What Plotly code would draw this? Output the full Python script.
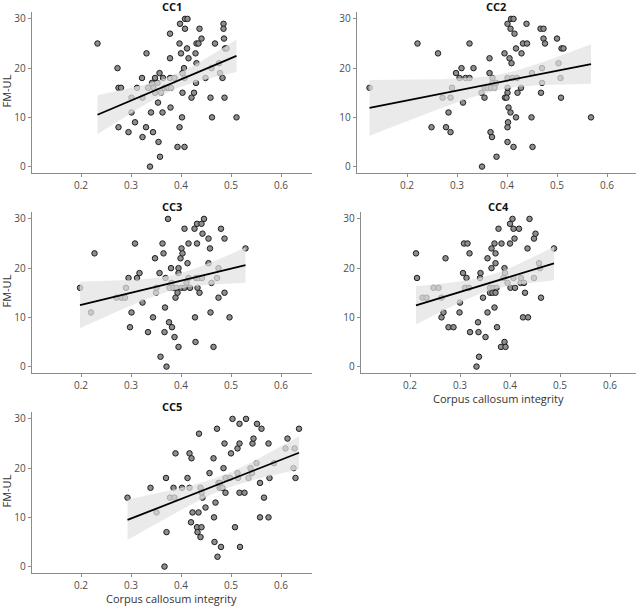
import numpy as np
import plotly.graph_objects as go

W, H = 642, 606

panel_titles = ["CC1", "CC2", "CC3", "CC4", "CC5"]
x_ticks = [0.2, 0.3, 0.4, 0.5, 0.6]
y_ticks = [0, 10, 20, 30]
x_label = "Corpus callosum integrity"
y_label = "FM-UL"

cc1_points = [
    (0.233, 25), (0.331, 23), (0.273, 20), (0.275, 16), (0.280, 16), (0.322, 18), (0.312, 16),
    (0.301, 14), (0.323, 14), (0.301, 11), (0.275, 8), (0.308, 9), (0.295, 7), (0.323, 6),
    (0.330, 8), (0.340, 11), (0.344, 7), (0.355, 5), (0.338, 0), (0.358, 2), (0.363, 11),
    (0.379, 12), (0.354, 13), (0.334, 16), (0.342, 17), (0.348, 18), (0.345, 16), (0.348, 15),
    (0.353, 17), (0.357, 19), (0.360, 15), (0.364, 18), (0.367, 16), (0.372, 16), (0.375, 16),
    (0.380, 16), (0.378, 18), (0.387, 18), (0.378, 22), (0.378, 27), (0.398, 29), (0.408, 30),
    (0.413, 30), (0.408, 28), (0.397, 25), (0.400, 23), (0.412, 24), (0.415, 22), (0.406, 20),
    (0.403, 19), (0.407, 18), (0.403, 15), (0.402, 10), (0.397, 8), (0.393, 4), (0.407, 4),
    (0.421, 14), (0.426, 15), (0.429, 23), (0.431, 21), (0.430, 17), (0.431, 25), (0.435, 25),
    (0.437, 28), (0.441, 26), (0.449, 18), (0.468, 25), (0.459, 14), (0.462, 10), (0.461, 20),
    (0.476, 21), (0.478, 19), (0.483, 18), (0.485, 29), (0.485, 28), (0.486, 26), (0.488, 24),
    (0.491, 24), (0.487, 14), (0.511, 10),
]

cc2_points = [
    (0.125, 16), (0.221, 25), (0.262, 23), (0.249, 8), (0.278, 8), (0.287, 7), (0.283, 11),
    (0.271, 14), (0.287, 14), (0.290, 16), (0.312, 13), (0.298, 19), (0.305, 18), (0.309, 20),
    (0.317, 18), (0.325, 18), (0.333, 20), (0.325, 25), (0.350, 0), (0.379, 2), (0.401, 5),
    (0.413, 4), (0.451, 4), (0.367, 7), (0.370, 6), (0.401, 8), (0.402, 9), (0.403, 12),
    (0.407, 11), (0.418, 10), (0.449, 10), (0.349, 15), (0.355, 16), (0.361, 16), (0.368, 16),
    (0.375, 16), (0.371, 17), (0.378, 17), (0.371, 18), (0.355, 14), (0.365, 19), (0.365, 22),
    (0.395, 23), (0.405, 22), (0.409, 21), (0.418, 24), (0.429, 23), (0.401, 29), (0.408, 30),
    (0.413, 30), (0.407, 28), (0.415, 27), (0.432, 25), (0.440, 25), (0.439, 29), (0.467, 28),
    (0.473, 28), (0.473, 26), (0.476, 25), (0.500, 26), (0.509, 24), (0.513, 24), (0.503, 21),
    (0.507, 18), (0.508, 14), (0.468, 15), (0.470, 17), (0.470, 20), (0.450, 19), (0.428, 16),
    (0.421, 15), (0.401, 15), (0.401, 16), (0.401, 18), (0.411, 18), (0.420, 18), (0.396, 14),
    (0.399, 14), (0.568, 10),
]

cc3_points = [
    (0.198, 16), (0.220, 11), (0.227, 23), (0.271, 14), (0.281, 14), (0.288, 14), (0.290, 16),
    (0.295, 18), (0.301, 11), (0.298, 8), (0.308, 25), (0.312, 18), (0.317, 19), (0.323, 13),
    (0.334, 7), (0.344, 10), (0.348, 22), (0.350, 15), (0.351, 16), (0.357, 19), (0.363, 25),
    (0.365, 23), (0.367, 7), (0.368, 12), (0.369, 18), (0.359, 2), (0.371, 0), (0.374, 30),
    (0.376, 9), (0.382, 8), (0.377, 16), (0.380, 20), (0.381, 17), (0.385, 16), (0.391, 16),
    (0.387, 6), (0.389, 14), (0.393, 15), (0.395, 4), (0.395, 20), (0.395, 19), (0.399, 22),
    (0.401, 24), (0.403, 23), (0.401, 16), (0.407, 16), (0.407, 28), (0.411, 17), (0.413, 21),
    (0.415, 25), (0.415, 18), (0.418, 16), (0.427, 28), (0.428, 10), (0.429, 5), (0.430, 18),
    (0.432, 29), (0.432, 25), (0.433, 16), (0.437, 15), (0.435, 18), (0.441, 29), (0.443, 27),
    (0.442, 18), (0.446, 30), (0.455, 26), (0.455, 21), (0.458, 24), (0.459, 11), (0.461, 17),
    (0.465, 4), (0.472, 18), (0.475, 20), (0.475, 14), (0.480, 28), (0.487, 15), (0.487, 26),
    (0.497, 10), (0.529, 24),
]

cc4_points = [
    (0.212, 23), (0.214, 18), (0.225, 14), (0.233, 14), (0.247, 16), (0.257, 16), (0.263, 14),
    (0.263, 10), (0.267, 11), (0.271, 22), (0.277, 8), (0.287, 8), (0.299, 11), (0.300, 13),
    (0.306, 19), (0.308, 25), (0.315, 25), (0.313, 18), (0.310, 16), (0.318, 16), (0.319, 23),
    (0.320, 7), (0.336, 9), (0.337, 7), (0.338, 2), (0.333, 0), (0.341, 19), (0.340, 18),
    (0.346, 14), (0.351, 6), (0.355, 22), (0.355, 11), (0.360, 16), (0.367, 16), (0.373, 16),
    (0.360, 15), (0.365, 15), (0.371, 15), (0.363, 24), (0.363, 20), (0.369, 12), (0.369, 25),
    (0.371, 23), (0.371, 21), (0.374, 8), (0.377, 28), (0.383, 25), (0.382, 4), (0.389, 5),
    (0.391, 4), (0.389, 20), (0.390, 19), (0.387, 18), (0.395, 17), (0.400, 25), (0.400, 29),
    (0.405, 30), (0.407, 28), (0.409, 26), (0.401, 16), (0.407, 18), (0.410, 16), (0.418, 28),
    (0.421, 17), (0.428, 17), (0.422, 18), (0.426, 10), (0.430, 15), (0.436, 10), (0.435, 24),
    (0.439, 30), (0.448, 26), (0.451, 27), (0.448, 18), (0.458, 21), (0.460, 20), (0.462, 14),
    (0.488, 24),
]

cc5_points = [
    (0.293, 14), (0.339, 16), (0.351, 11), (0.371, 7), (0.370, 18), (0.367, 0), (0.378, 14),
    (0.387, 14), (0.385, 16), (0.389, 23), (0.402, 16), (0.413, 18), (0.417, 16), (0.417, 23),
    (0.421, 22), (0.423, 11), (0.420, 9), (0.432, 8), (0.433, 7), (0.435, 11), (0.436, 27),
    (0.439, 16), (0.441, 15), (0.441, 8), (0.439, 6), (0.443, 14), (0.449, 12), (0.457, 19),
    (0.465, 22), (0.466, 10), (0.467, 5), (0.469, 13), (0.472, 28), (0.473, 2), (0.477, 16),
    (0.481, 16), (0.475, 17), (0.478, 17), (0.480, 4), (0.483, 16), (0.485, 20), (0.487, 25),
    (0.489, 18), (0.489, 15), (0.498, 18), (0.500, 23), (0.503, 30), (0.508, 8), (0.513, 24),
    (0.513, 19), (0.514, 18), (0.517, 25), (0.517, 29), (0.517, 15), (0.518, 4), (0.527, 15),
    (0.530, 30), (0.535, 18), (0.539, 20), (0.542, 19), (0.543, 25), (0.545, 26), (0.551, 21),
    (0.552, 29), (0.558, 17), (0.558, 10), (0.561, 28), (0.566, 14), (0.575, 25), (0.575, 10),
    (0.577, 18), (0.586, 21), (0.609, 24), (0.613, 26), (0.627, 24), (0.625, 20), (0.629, 18),
    (0.636, 28),
]

all_points = [cc1_points, cc2_points, cc3_points, cc4_points, cc5_points]

# panel boxes in pixels: (left, right, top, bottom)
boxes = [
    (32, 312, 12, 173),
    (357, 636, 12, 173),
    (32, 312, 212, 373),
    (361, 636, 212, 373),
    (32, 312, 412, 573),
]
x_ranges = [(0.102, 0.662), (0.100, 0.658), (0.102, 0.662), (0.102, 0.652), (0.102, 0.662)]
y_range = (-1.3, 31.4)

T975 = 1.99

fig = go.Figure()
axis_color = "#8c8c8c"
font_family = "Open Sans"

for i, pts in enumerate(all_points):
    k = "" if i == 0 else str(i + 1)
    xa, ya = "x" + k, "y" + k
    xs = np.array([p[0] for p in pts])
    ys = np.array([p[1] for p in pts], dtype=float)

    fig.add_trace(go.Scatter(
        x=xs, y=ys, mode="markers", xaxis=xa, yaxis=ya,
        marker=dict(size=5.5, color="#8e8e8e", line=dict(color="#1e1e1e", width=1)),
        showlegend=False, hoverinfo="skip"))

    b1, b0 = np.polyfit(xs, ys, 1)
    n = len(xs)
    resid = ys - (b0 + b1 * xs)
    s = np.sqrt(np.sum(resid ** 2) / (n - 2))
    xm = xs.mean()
    sxx = np.sum((xs - xm) ** 2)
    gx = np.linspace(xs.min(), xs.max(), 80)
    gy = b0 + b1 * gx
    se = s * np.sqrt(1.0 / n + (gx - xm) ** 2 / sxx)
    up, lo = gy + T975 * se, gy - T975 * se

    fig.add_trace(go.Scatter(
        x=np.concatenate([gx, gx[::-1]]), y=np.concatenate([up, lo[::-1]]),
        mode="lines", fill="toself", fillcolor="rgba(226,226,226,0.72)",
        line=dict(width=0), xaxis=xa, yaxis=ya, showlegend=False, hoverinfo="skip"))
    fig.add_trace(go.Scatter(
        x=gx, y=gy, mode="lines", line=dict(color="black", width=1.8),
        xaxis=xa, yaxis=ya, showlegend=False, hoverinfo="skip"))

    l, r, t, bt = boxes[i]
    common = dict(showline=True, linecolor=axis_color, linewidth=1.2, ticks="outside",
                  ticklen=3, tickcolor=axis_color, tickwidth=1, showgrid=False,
                  zeroline=False, tickfont=dict(size=10, color="#4d4d4d", family=font_family))
    fig.update_layout(**{
        ("xaxis" + k): dict(domain=[l / W, r / W], range=list(x_ranges[i]), anchor=ya,
                            tickvals=x_ticks, ticktext=[f"{v:.1f}" for v in x_ticks], **common),
        ("yaxis" + k): dict(domain=[1 - bt / H, 1 - t / H], range=list(y_range), anchor=xa,
                            tickvals=y_ticks, **common),
    })

    fig.add_annotation(x=(l + r) / 2 / W, y=1 - (t - 6) / H, xref="paper", yref="paper",
                       text="<b>" + panel_titles[i] + "</b>", showarrow=False,
                       xanchor="center", yanchor="middle",
                       font=dict(size=11, color="#111111", family=font_family))

    if i in (0, 2, 4):
        fig.add_annotation(x=6 / W, y=1 - ((t + bt) / 2 - 1) / H, xref="paper", yref="paper",
                           text=y_label, showarrow=False, textangle=-90,
                           xanchor="center", yanchor="middle",
                           font=dict(size=11, color="#333333", family=font_family))
    if i in (3, 4):
        fig.add_annotation(x=(l + r) / 2 / W, y=1 - (bt + 25) / H, xref="paper", yref="paper",
                           text=x_label, showarrow=False,
                           xanchor="center", yanchor="middle",
                           font=dict(size=11, color="#333333", family=font_family))

fig.update_layout(width=W, height=H, margin=dict(l=0, r=0, t=0, b=0),
                  paper_bgcolor="white", plot_bgcolor="white",
                  font=dict(family=font_family))

fig.write_html("out.html", config={"displayModeBar": False, "staticPlot": True},
               post_script="document.body.style.margin='0px';document.body.style.overflow='hidden';")
